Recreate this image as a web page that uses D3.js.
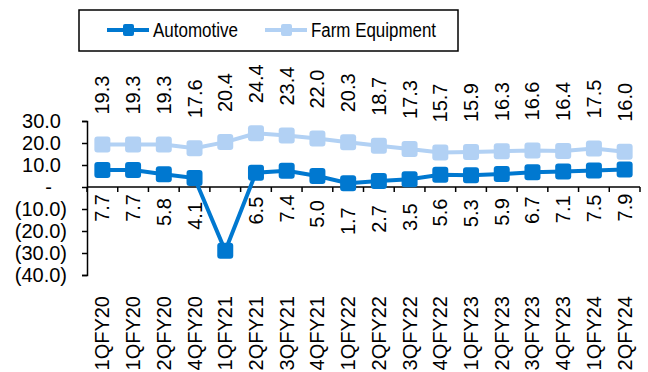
<!DOCTYPE html>
<html lang="en">
<head>
  <meta charset="utf-8">
  <title></title>
  <script src="https://d3js.org/d3.v7.min.js"></script>
</head>
<style>
body { margin: 0; background: white; }
text { font-family: "Liberation Sans", Arial, sans-serif; fill: black; }
.tick-label { font-size: 20px; }
.data-label { font-size: 20px; }
.legend-label { font-size: 20px; }
.axis-line { stroke: black; stroke-width: 1.5px; }
</style>
<body>
<div class="chart"></div>
<script>
// categories and series
var quarters = ["1QFY20", "1QFY20", "2QFY20", "4QFY20", "1QFY21", "2QFY21", "3QFY21", "4QFY21",
  "1QFY22", "2QFY22", "3QFY22", "4QFY22", "1QFY23", "2QFY23", "3QFY23", "4QFY23", "1QFY24", "2QFY24"];
var automotive = [7.7, 7.7, 5.8, 4.1, -29.0, 6.5, 7.4, 5.0, 1.7, 2.7, 3.5, 5.6, 5.3, 5.9, 6.7, 7.1, 7.5, 7.9];
var farmEquipment = [19.3, 19.3, 19.3, 17.6, 20.4, 24.4, 23.4, 22.0, 20.3, 18.7, 17.3, 15.7, 15.9, 16.3, 16.6, 16.4, 17.5, 16.0];
var yTicks = [-40, -30, -20, -10, 0, 10, 20, 30];
var seriesNames = ["Automotive", "Farm Equipment"];
var seriesColors = ["#0078d0", "#b2d1f4"];

var width = 648, height = 372;
var svg = d3.select(".chart").append("svg")
  .attr("width", width)
  .attr("height", height);

var x = d3.scaleBand().domain(d3.range(quarters.length)).range([87, 640]);
var y = d3.scaleLinear().domain([-40, 30]).range([275, 121]);
var cx = function(i) { return x(i) + x.bandwidth() / 2; };

// y axis
var yAxis = svg.append("g")
  .attr("transform", "translate(87,0)")
  .call(d3.axisLeft(y).tickValues(yTicks).tickSize(5).tickFormat(""));
yAxis.select(".domain").attr("stroke-width", 1.5);
yAxis.selectAll(".tick line").attr("stroke-width", 1.5);

var fmt = d3.format(".1f");
svg.selectAll(".ytick")
  .data(yTicks)
  .enter()
  .append("text")
  .attr("class", "tick-label")
  .attr("text-anchor", "end")
  .attr("x", function(d) { return d > 0 ? 61 : (d < 0 ? 67 : 52); })
  .attr("y", function(d) { return y(d) + 7; })
  .text(function(d) {
    if (d == 0) return "-";
    return d < 0 ? "(" + fmt(-d) + ")" : fmt(d);
  });

// x axis along zero
var xAxis = svg.append("g")
  .attr("transform", "translate(0," + y(0) + ")");
xAxis.append("line")
  .attr("class", "axis-line")
  .attr("x1", 87).attr("x2", 640)
  .attr("y1", 0).attr("y2", 0);
xAxis.selectAll(".xtick")
  .data(d3.range(quarters.length + 1))
  .enter()
  .append("line")
  .attr("class", "axis-line")
  .attr("x1", function(i) { return 87 + i * x.step(); })
  .attr("x2", function(i) { return 87 + i * x.step(); })
  .attr("y1", 0).attr("y2", 5);

// category labels
svg.selectAll(".cat")
  .data(quarters)
  .enter()
  .append("text")
  .attr("class", "tick-label")
  .attr("text-anchor", "end")
  .attr("transform", function(d, i) {
    return "translate(" + (cx(i) + 7) + ",296) rotate(-90)";
  })
  .text(function(d) { return d; });

// lines + markers
var line = d3.line()
  .x(function(d, i) { return cx(i); })
  .y(function(d) { return y(d); });

[farmEquipment, automotive].forEach(function(values, k) {
  var color = seriesColors[1 - k];
  svg.append("path")
    .datum(values)
    .attr("fill", "none")
    .attr("stroke", color)
    .attr("stroke-width", 4)
    .attr("d", line);
  svg.selectAll(".m" + k)
    .data(values)
    .enter()
    .append("rect")
    .attr("x", function(d, i) { return cx(i) - 8; })
    .attr("y", function(d) { return y(d) - 8; })
    .attr("width", 16)
    .attr("height", 16)
    .attr("rx", 3)
    .attr("fill", color);
});

// data labels: farm above, automotive below (negative one is hidden)
svg.selectAll(".lblF")
  .data(farmEquipment)
  .enter()
  .append("text")
  .attr("class", "data-label")
  .attr("transform", function(d, i) {
    return "translate(" + (cx(i) + 7) + "," + (y(d) - 30) + ") rotate(-90)";
  })
  .text(function(d) { return fmt(d); });

svg.selectAll(".lblA")
  .data(automotive)
  .enter()
  .append("text")
  .attr("class", "data-label")
  .attr("text-anchor", "end")
  .attr("transform", function(d, i) {
    return "translate(" + (cx(i) + 7) + "," + (y(d) + 24) + ") rotate(-90)";
  })
  .text(function(d) { return d < 0 ? "" : fmt(d); });

// legend
var legend = svg.append("g");
legend.append("rect")
  .attr("x", 79).attr("y", 10)
  .attr("width", 379).attr("height", 41)
  .attr("fill", "white")
  .attr("stroke", "black")
  .attr("stroke-width", 1.5);
var legendX = [107, 265];
var legendTextW = [85, 125];
seriesNames.forEach(function(name, k) {
  var g = legend.append("g").attr("transform", "translate(" + legendX[k] + ",30)");
  g.append("line")
    .attr("x1", 0).attr("x2", 42)
    .attr("y1", 0).attr("y2", 0)
    .attr("stroke", seriesColors[k])
    .attr("stroke-width", 4);
  g.append("rect")
    .attr("x", 16).attr("y", -6)
    .attr("width", 11).attr("height", 12)
    .attr("rx", 2)
    .attr("fill", seriesColors[k]);
  g.append("text")
    .attr("class", "legend-label")
    .attr("x", 46)
    .attr("y", 7)
    .attr("textLength", legendTextW[k])
    .attr("lengthAdjust", "spacingAndGlyphs")
    .text(name);
});
</script>
</body>
</html>
